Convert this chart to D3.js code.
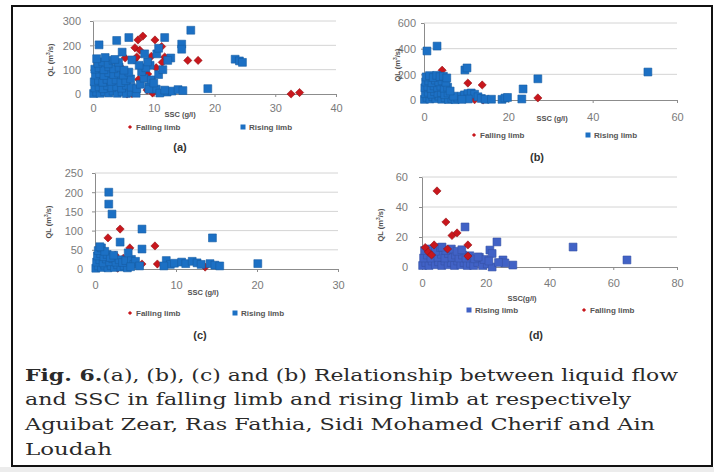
<!DOCTYPE html>
<html>
<head>
<meta charset="utf-8">
<script src="https://cdn.jsdelivr.net/npm/d3@7"></script>
<style>
  body { margin: 0; background: #fff; }
  svg { display: block; }
</style>
</head>
<body>
<svg id="fig" width="714" height="472"></svg>
<script>
// ---- data: [SSC g/l, QL m3/s] ----
const risingA = [
    [0.1, 2], [0.6, 8], [1.2, 3], [1.9, 10], [2.6, 4], [3.3, 12], [4.0, 3], [4.8, 9], [5.5, 2], [6.3, 7], [7.1, 3],
    [0.3, 25], [1.0, 30], [1.7, 22], [2.4, 34], [3.1, 26], [3.9, 31], [4.7, 24], [5.5, 36], [6.3, 28], [7.2, 22],
    [0.2, 50], [0.9, 56], [1.6, 48], [2.3, 60], [3.0, 52], [3.8, 58], [4.6, 47], [5.4, 55], [6.2, 62],
    [0.4, 78], [1.1, 84], [1.8, 76], [2.6, 88], [3.4, 80], [4.2, 86], [5.0, 78], [5.9, 90],
    [0.3, 102], [1.0, 108], [1.8, 100], [2.6, 112], [3.4, 104], [4.3, 110], [5.1, 98],
    [0.8, 126], [1.6, 132], [2.5, 124], [3.3, 138], [4.2, 130], [0.6, 145], [2.0, 150], [3.6, 142],
    [7.8, 40], [8.4, 65], [9.2, 30], [8.0, 92], [9.6, 58], [10.4, 20], [10.8, 80], [11.5, 100], [9.4, 118],
    [8.7, 108], [7.6, 118], [6.4, 140], [9.0, 132], [12.2, 8], [11.0, 4], [13.0, 12], [11.8, 16], [14.0, 18],
    [14.8, 14], [18.9, 22], [10.5, 165], [12.8, 148], [12.3, 138], [8.5, 165], [10.8, 188], [4.8, 172],
    [1.0, 202], [3.9, 220], [5.9, 232], [11.8, 232], [14.6, 205], [14.6, 184], [16.1, 262],
    [23.4, 143], [24.1, 136], [24.6, 130], [9.2, 20], [10.0, 45]
];
const fallingA = [
    [8.2, 238], [7.4, 222], [10.2, 222], [11.3, 195], [6.9, 190], [7.7, 180], [15.6, 138], [17.3, 138],
    [11.8, 152], [11.4, 130], [12.6, 142], [5.3, 148], [5.8, 86], [8.9, 16], [5.6, 0], [6.4, 2],
    [32.6, 0], [34.0, 6], [10.4, 108], [9.0, 82], [6.8, 140], [9.6, 155], [7.2, 152], [3.0, 70],
    [2.2, 18], [4.5, 112], [4.2, 45], [1.5, 92], [7.5, 60], [9.8, 4]
];
const risingB = [
    [0.1, 5], [0.7, 20], [1.4, 8], [2.1, 25], [2.8, 10], [3.5, 30], [4.2, 6], [5.0, 18], [5.8, 4], [6.6, 12], [7.4, 3],
    [0.3, 50], [1.0, 60], [1.8, 45], [2.5, 65], [3.3, 52], [4.1, 58], [4.9, 42], [5.7, 55],
    [0.2, 95], [0.9, 105], [1.7, 90], [2.4, 110], [3.2, 98], [4.0, 108], [4.8, 92], [5.6, 100],
    [0.4, 140], [1.1, 150], [1.9, 135], [2.7, 155], [3.5, 142], [4.3, 150], [5.2, 138],
    [0.5, 180], [1.3, 190], [2.2, 175], [3.0, 192], [3.8, 182], [4.6, 185], [5.4, 172],
    [8.0, 15], [8.8, 30], [9.6, 40], [10.4, 50], [11.2, 55], [12.0, 45], [12.8, 25], [13.6, 12], [10.5, 8],
    [9.0, 5], [14.5, 5], [16.0, 6], [18.5, 5], [19.2, 15], [19.8, 20], [23.2, 8], [23.5, 86], [27.0, 165],
    [9.7, 234], [10.2, 250], [0.7, 382], [3.1, 420], [53.1, 218], [7.0, 30], [6.2, 70]
];
const fallingB = [
    [4.3, 232], [10.4, 132], [13.8, 117], [27.0, 16], [14.0, 0], [12.0, 2], [3.0, 60], [6.5, 20], [1.5, 120], [8.5, 10]
];
const risingC = [
    [0.1, 2], [0.4, 8], [0.8, 4], [1.2, 10], [1.6, 3], [2.0, 9], [2.4, 4], [2.8, 11], [3.2, 5], [3.6, 8], [4.0, 3],
    [0.2, 18], [0.6, 24], [1.0, 16], [1.4, 26], [1.8, 19], [2.2, 27], [2.6, 18], [3.0, 24], [3.4, 17], [3.8, 22],
    [0.3, 34], [0.7, 40], [1.1, 32], [1.5, 38], [1.9, 30], [2.3, 36], [0.4, 48], [0.8, 55], [1.2, 46], [0.6, 58],
    [4.5, 25], [4.8, 12], [5.0, 20], [4.4, 6], [5.5, 8], [3.1, 70], [4.1, 42], [5.8, 52],
    [1.7, 200], [1.7, 169], [2.1, 143], [5.8, 104], [14.5, 81],
    [8.8, 22], [9.3, 12], [9.8, 15], [10.7, 18], [11.2, 14], [12.0, 20], [12.6, 16], [13.1, 12],
    [14.2, 14], [14.8, 10], [15.4, 8], [20.1, 14], [8.5, 8]
];
const fallingC = [
    [3.1, 104], [1.6, 81], [7.4, 60], [4.3, 55], [2.5, 36], [7.7, 13], [5.8, 13], [13.6, 5],
    [5.3, 10], [2.8, 2], [1.0, 20], [3.5, 28], [0.5, 5]
];
const risingD = [
    [0.2, 1], [1.2, 3], [2.2, 1], [3.2, 4], [4.2, 1.5], [5.2, 3.5], [6.2, 1], [7.2, 4], [8.2, 1.5], [9.2, 3],
    [10.2, 1], [11.2, 4], [12.2, 1.5], [13.2, 3], [14.2, 1], [15.2, 2.5], [16.2, 1], [17.5, 3], [19, 1], [20.5, 2],
    [0.5, 6], [1.7, 8], [2.8, 6], [3.9, 9], [5.0, 6.5], [6.1, 8.5], [7.2, 6], [8.3, 9], [9.4, 6.5], [10.5, 8],
    [11.6, 6], [12.7, 8], [13.8, 6], [15.0, 7.5], [16.5, 5.5], [18, 6.5], [19.5, 5],
    [0.8, 11], [2.5, 12], [4.2, 10.5], [5.8, 13], [7.5, 11], [9.2, 12], [11.0, 10.5], [12.5, 11.5],
    [13.5, 26.7], [23.5, 16.7], [21.3, 11.3], [22, 9], [47.4, 13.3], [64.3, 4.7], [28.5, 1.3],
    [25.4, 4.7], [26, 2.7], [22, 0], [17.6, 6.7], [6.3, 13.3], [21, 4], [24, 3]
];
const fallingD = [
    [4.7, 50.7], [7.5, 30], [9.4, 21], [11, 22.7], [14.4, 14.7], [14.4, 7.3], [3.8, 14.7], [1, 13], [2, 10], [3, 8], [8, 12]
];

// tick labels
const xTicksA = [0, 10, 20, 30, 40], yTicksA = [0, 100, 200, 300];
const xTicksB = [0, 20, 40, 60], yTicksB = [0, 200, 400, 600];
const xTicksC = [0, 10, 20, 30], yTicksC = [0, 50, 100, 150, 200, 250];
const xTicksD = [0, 20, 40, 60, 80], yTicksD = [0, 20, 40, 60];

const captionLines = [
    "Relationship between liquid flow",
    "and SSC in falling limb and rising limb at respectively",
    "Aguibat Zear, Ras Fathia, Sidi Mohamed Cherif and Ain",
    "Loudah"
];

// ---- layout ----
const blue = "#1c70c4", blueD = "#4162c6", red = "#c8171d";
const panels = [
    { label: "(a)", rising: risingA, falling: fallingA, xt: xTicksA, yt: yTicksA,
      xr: [93, 336], yr: [94, 21], yLabX: 81, yTitle: [50, 60], xTickY: 108, xTitle: [180, 114],
      legY: 127, legend: [["Falling limb", 130], ["Rising limb", 243]], lab: [180, 147], blue: blue, fallOnTop: false },
    { label: "(b)", rising: risingB, falling: fallingB, xt: xTicksB, yt: yTicksB,
      xr: [424, 677], yr: [100, 23], yLabX: 416, yTitle: [397, 65], xTickY: 117, xTitle: [552, 118],
      legY: 135, legend: [["Falling limb", 474], ["Rising limb", 588]], lab: [537, 157], blue: blue, fallOnTop: false },
    { label: "(c)", rising: risingC, falling: fallingC, xt: xTicksC, yt: yTicksC,
      xr: [95, 338], yr: [269, 173], yLabX: 83, yTitle: [48, 222], xTickY: 285, xTitle: [203, 292],
      legY: 313, legend: [["Falling limb", 130], ["Rising limb", 235]], lab: [200, 335], blue: blue, fallOnTop: false },
    { label: "(d)", rising: risingD, falling: fallingD, xt: xTicksD, yt: yTicksD,
      xr: [422, 677], yr: [267, 177], yLabX: 408, yTitle: [380, 225], xTickY: 283, xTitle: [522, 298],
      legY: 310, legend: [["Rising limb", 469], ["Falling limb", 584]], lab: [536, 335], blue: blueD, fallOnTop: true }
];

const svg = d3.select("#fig");
svg.append("rect").attr("width", 714).attr("height", 472).attr("fill", "#fff");
svg.append("rect").attr("x", 0).attr("y", 467).attr("width", 714).attr("height", 5).attr("fill", "#ececec");
svg.append("rect").attr("x", 12).attr("y", 6).attr("width", 700).attr("height", 460)
    .attr("fill", "none").attr("stroke", "#111").attr("stroke-width", 2);

const squarePath = d3.symbol(d3.symbolSquare, 62)();
const diamondPath = d3.symbol(d3.symbolSquare, 34)();

function drawSquares(g, pts, x, y, col) {
    g.selectAll(null).data(pts).enter().append("path")
        .attr("d", squarePath)
        .attr("transform", d => `translate(${x(d[0])},${y(d[1])})`)
        .attr("fill", col).attr("stroke", d3.color(col).darker(0.5)).attr("stroke-width", 0.6);
}

function drawDiamonds(g, pts, x, y) {
    g.selectAll(null).data(pts).enter().append("path")
        .attr("d", diamondPath)
        .attr("transform", d => `translate(${x(d[0])},${y(d[1])}) rotate(45)`)
        .attr("fill", red).attr("stroke", "#8a0f12").attr("stroke-width", 0.5);
}

for (const p of panels) {
    const x = d3.scaleLinear().domain([0, d3.max(p.xt)]).range(p.xr);
    const y = d3.scaleLinear().domain([0, d3.max(p.yt)]).range(p.yr);
    const g = svg.append("g");

    // gridlines
    g.append("g").selectAll("line").data(p.yt.slice(1)).enter().append("line")
        .attr("x1", p.xr[0]).attr("x2", p.xr[1])
        .attr("y1", d => y(d)).attr("y2", d => y(d))
        .attr("stroke", "#d4d4d4").attr("stroke-width", 1);

    // axes
    const yAxis = g.append("g").attr("transform", `translate(${p.xr[0]},0)`)
        .call(d3.axisLeft(y).tickValues(p.yt).tickSize(3).tickSizeOuter(0));
    yAxis.selectAll("text").attr("x", p.yLabX - p.xr[0]).attr("dy", "0.35em");
    const xAxis = g.append("g").attr("transform", `translate(0,${p.yr[0]})`)
        .call(d3.axisBottom(x).tickValues(p.xt).tickSize(3).tickSizeOuter(0));
    xAxis.selectAll("text").attr("y", p.xTickY - p.yr[0]).attr("dy", "0.35em");
    for (const ax of [xAxis, yAxis]) {
        ax.select(".domain").attr("stroke", "#8c8c8c");
        ax.selectAll(".tick line").attr("stroke", "#8c8c8c");
        ax.selectAll("text").attr("fill", "#7a7a7a")
            .style("font-family", "'Liberation Sans', Arial, sans-serif").style("font-size", "11px");
        ax.attr("font-family", null).attr("font-size", null);
    }

    // points
    if (p.fallOnTop) {
        drawSquares(g, p.rising, x, y, p.blue);
        drawDiamonds(g, p.falling, x, y);
    } else {
        drawDiamonds(g, p.falling, x, y);
        drawSquares(g, p.rising, x, y, p.blue);
    }

    // axis titles
    const small = "font-family:'Liberation Sans',Arial,sans-serif;font-size:7.5px;font-weight:bold;fill:#505050";
    const yt = g.append("text").attr("transform", `translate(${p.yTitle[0]},${p.yTitle[1]}) rotate(-90)`)
        .attr("text-anchor", "middle").attr("dy", "0.35em").attr("style", small);
    yt.append("tspan").text("QL (m");
    yt.append("tspan").text("3").attr("dy", "-3").style("font-size", "5px");
    yt.append("tspan").text("/s)").attr("dy", "3");
    g.append("text").attr("x", p.xTitle[0]).attr("y", p.xTitle[1]).attr("dy", "0.35em")
        .attr("text-anchor", "middle").attr("style", small)
        .text(p.label === "(d)" ? "SSC(g/l)" : "SSC (g/l)");

    // legend
    for (const [name, mx] of p.legend) {
        const isRising = name.startsWith("Rising");
        if (isRising) {
            g.append("rect").attr("x", mx - 2.5).attr("y", p.legY - 2.5).attr("width", 5).attr("height", 5)
                .attr("fill", p.blue);
        } else {
            g.append("path").attr("d", d3.symbol(d3.symbolSquare, 9)())
                .attr("transform", `translate(${mx},${p.legY}) rotate(45)`).attr("fill", red);
        }
        g.append("text").attr("x", mx + 6).attr("y", p.legY).attr("dy", "0.35em")
            .attr("style", "font-family:'Liberation Sans',Arial,sans-serif;font-size:8px;font-weight:bold;fill:#555")
            .text(name);
    }

    g.append("text").attr("x", p.lab[0]).attr("y", p.lab[1]).attr("dy", "0.35em")
        .attr("text-anchor", "middle")
        .attr("style", "font-family:'Liberation Sans',Arial,sans-serif;font-size:11px;font-weight:bold;fill:#333")
        .text(p.label);
}

// caption
const capStyle = "font-family:'DejaVu Serif',serif;font-size:16.5px;fill:#2a2a2a";
const capY = [381, 405, 430, 455];
const capEnd = [678, 631, 655, 112];
const first = svg.append("text").attr("x", 25).attr("y", capY[0]).attr("style", capStyle)
    .attr("textLength", capEnd[0] - 25).attr("lengthAdjust", "spacingAndGlyphs");
first.append("tspan").attr("font-weight", "bold").text("Fig. 6.");
first.append("tspan").text("(a), (b), (c) and (b) " + captionLines[0]);
for (let i = 1; i < captionLines.length; i++) {
    svg.append("text").attr("x", 25).attr("y", capY[i]).attr("style", capStyle)
        .attr("textLength", capEnd[i] - 25).attr("lengthAdjust", "spacingAndGlyphs")
        .text(captionLines[i]);
}
</script>
</body>
</html>
